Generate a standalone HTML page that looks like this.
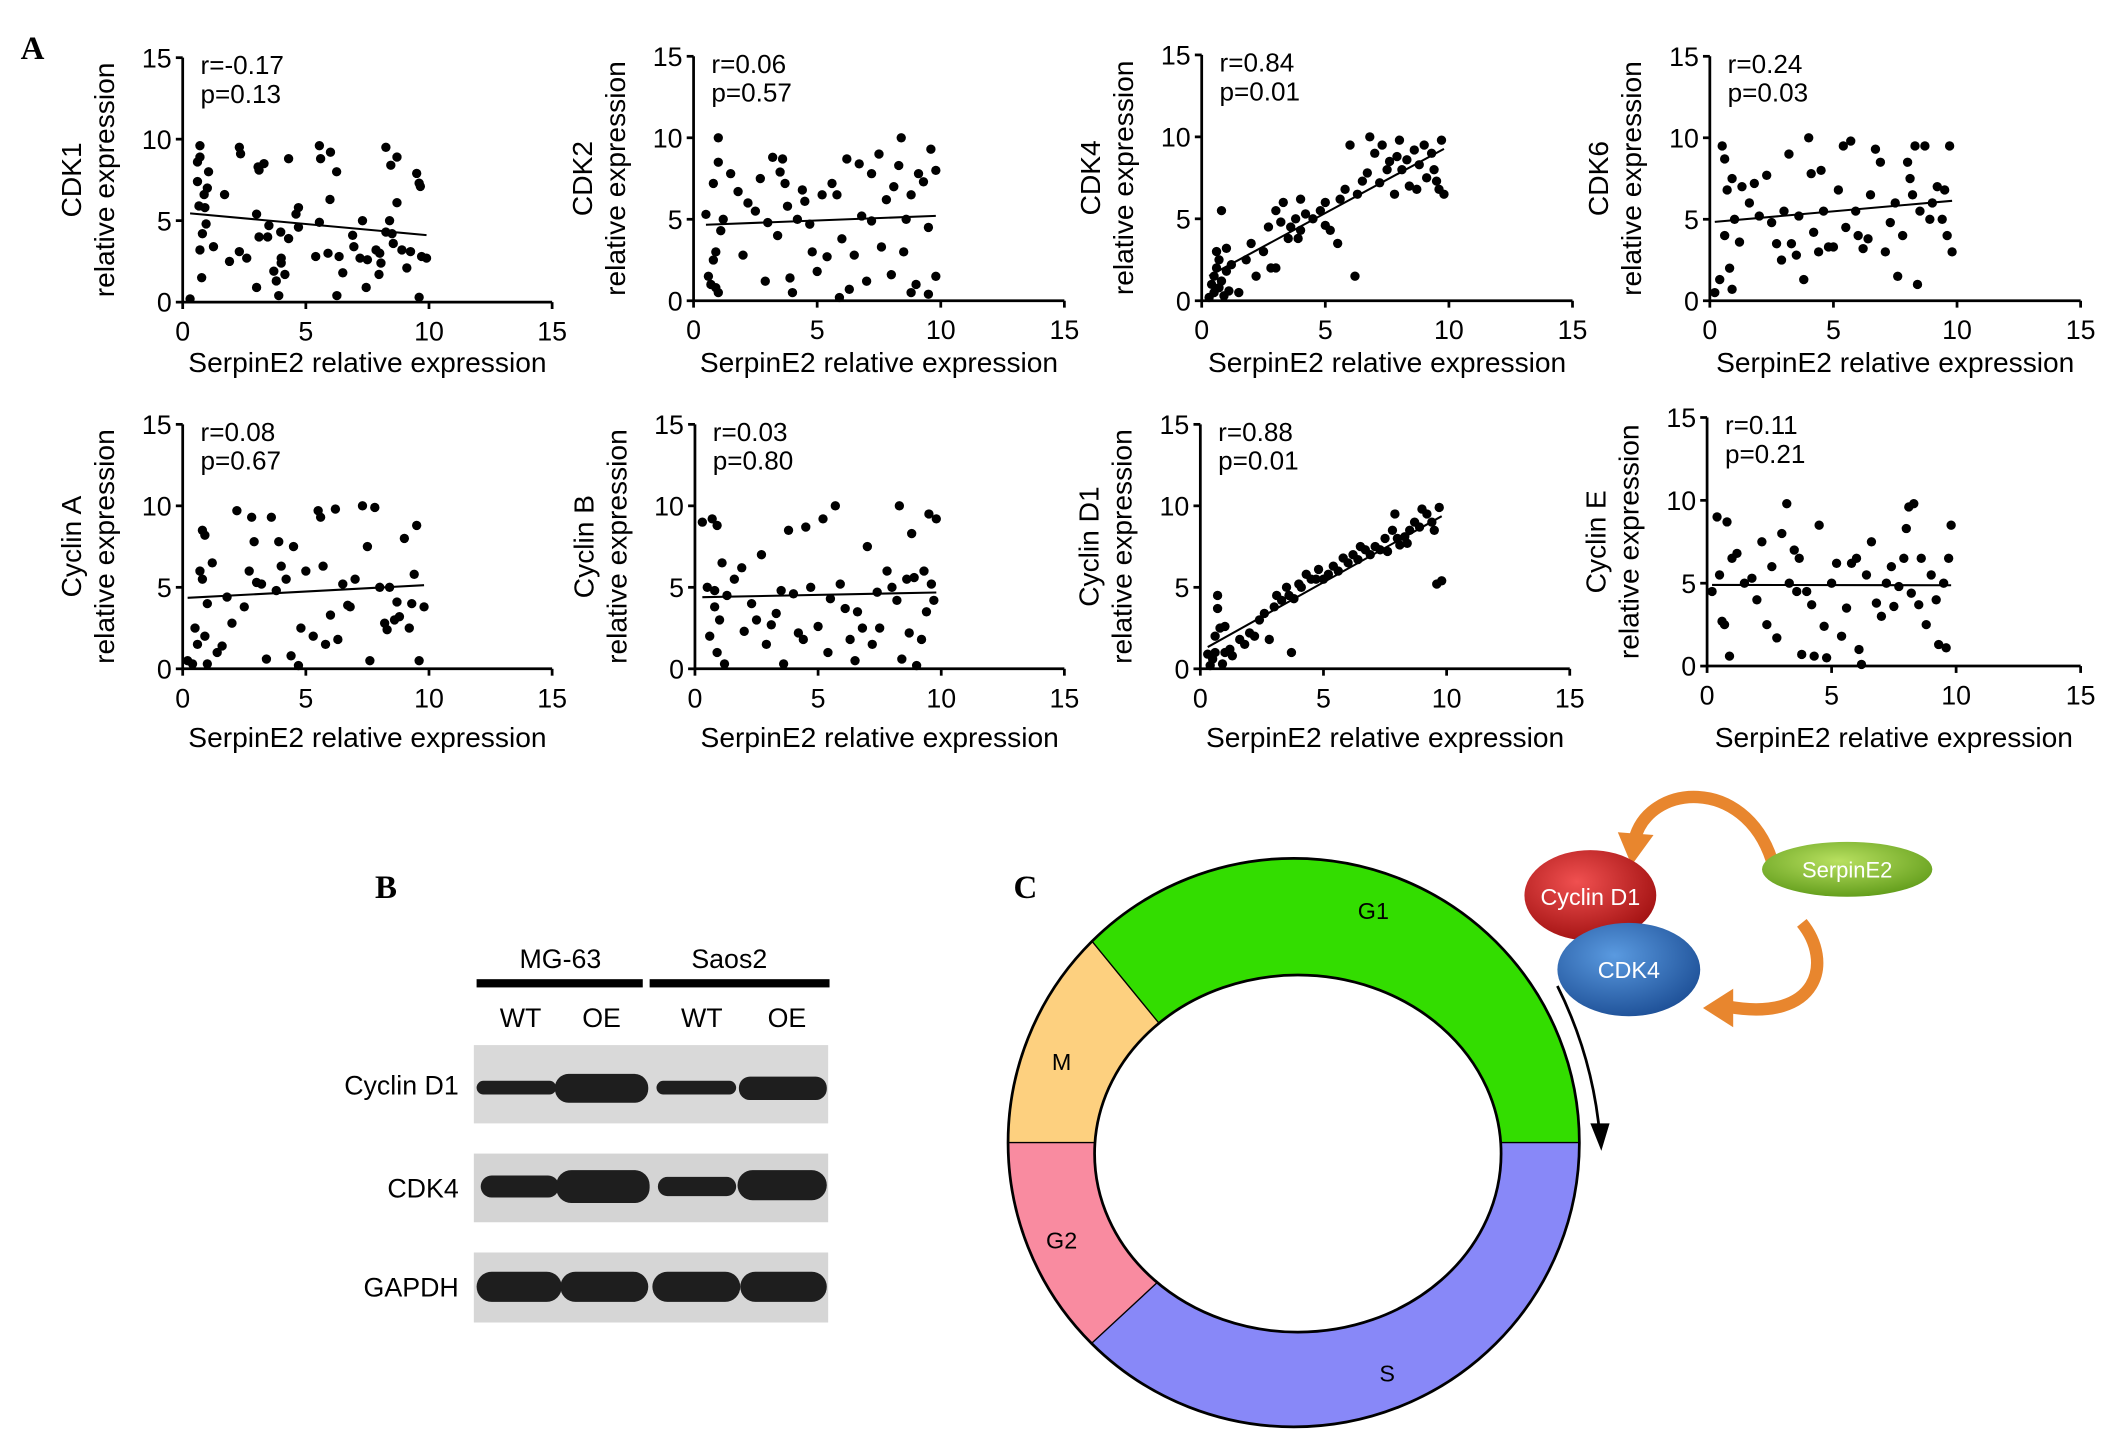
<!DOCTYPE html>
<html><head><meta charset="utf-8"><style>
html,body{margin:0;padding:0;background:#fff;width:2126px;height:1431px;overflow:hidden}
svg{display:block;font-family:"Liberation Sans",Arial,sans-serif}
</style></head><body>
<svg id="fig" width="2126" height="1431" viewBox="0 0 1548 1042" xmlns="http://www.w3.org/2000/svg">
<text x="15" y="43" font-family="Liberation Serif" font-weight="bold" font-size="24">A</text>
<g id="scatters"></g>

<!-- Panel B -->
<g>
<text x="273" y="654" font-family="Liberation Serif" font-weight="bold" font-size="24">B</text>
<text x="408" y="705" text-anchor="middle" font-size="19.5">MG-63</text>
<text x="531" y="705" text-anchor="middle" font-size="19.5">Saos2</text>
<rect x="347" y="713" width="121" height="6" fill="#000"/>
<rect x="473" y="713" width="131" height="6" fill="#000"/>
<text x="379" y="748" text-anchor="middle" font-size="19.5">WT</text>
<text x="438" y="748" text-anchor="middle" font-size="19.5">OE</text>
<text x="511" y="748" text-anchor="middle" font-size="19.5">WT</text>
<text x="573" y="748" text-anchor="middle" font-size="19.5">OE</text>
<text x="334" y="797" text-anchor="end" font-size="19.5">Cyclin D1</text>
<text x="334" y="872" text-anchor="end" font-size="19.5">CDK4</text>
<text x="334" y="944" text-anchor="end" font-size="19.5">GAPDH</text>
<rect x="345" y="761" width="258" height="57" fill="#d9d9d9"/>
<rect x="345" y="840" width="258" height="50" fill="#d4d4d4"/>
<rect x="345" y="912" width="258" height="51" fill="#d6d6d6"/>
<g fill="#1e1e1e">
<rect x="347" y="787" width="58" height="10" rx="5"/>
<rect x="404" y="782" width="68" height="21" rx="10"/>
<rect x="478" y="787" width="58" height="10" rx="5"/>
<rect x="538" y="784" width="64" height="17" rx="8"/>
<rect x="350" y="856" width="57" height="16" rx="8"/>
<rect x="405" y="852" width="68" height="24" rx="11"/>
<rect x="479" y="857" width="57" height="14" rx="7"/>
<rect x="537" y="852" width="65" height="22" rx="11"/>
<rect x="347" y="926" width="62" height="22" rx="11"/>
<rect x="408" y="926" width="64" height="22" rx="11"/>
<rect x="475" y="926" width="64" height="22" rx="11"/>
<rect x="539" y="926" width="63" height="22" rx="11"/>
</g>
</g>

<!-- Panel C -->
<g>
<text x="738" y="654" font-family="Liberation Serif" font-weight="bold" font-size="24">C</text>
<defs><clipPath id="ring"><ellipse cx="942" cy="832" rx="208" ry="207"/></clipPath>
<radialGradient id="gr" cx="40%" cy="35%" r="70%"><stop offset="0" stop-color="#f05050"/><stop offset="1" stop-color="#a01010"/></radialGradient>
<radialGradient id="gb" cx="40%" cy="35%" r="70%"><stop offset="0" stop-color="#5a9ae0"/><stop offset="1" stop-color="#1d4f96"/></radialGradient>
<radialGradient id="gg" cx="45%" cy="35%" r="70%"><stop offset="0" stop-color="#b8e060"/><stop offset="1" stop-color="#5e9a18"/></radialGradient></defs>
<g clip-path="url(#ring)">
<polygon points="700,569 700,540 1200,540 1200,832 945,832 870,777" fill="#33dd00"/>
<polygon points="700,569 870,777 945,832 700,832" fill="#fdd07f"/>
<polygon points="700,832 945,832 945,839 700,1066" fill="#f98ba0"/>
<polygon points="945,839 945,832 1200,832 1200,1100 700,1100 700,1066" fill="#8888f8"/>
<line x1="700" y1="569" x2="870" y2="777" stroke="#000" stroke-width="1"/>
<line x1="700" y1="832" x2="1200" y2="832" stroke="#000" stroke-width="1"/>
<line x1="700" y1="1066" x2="945" y2="839" stroke="#000" stroke-width="1"/>
</g>
<ellipse cx="942" cy="832" rx="208" ry="207" fill="none" stroke="#000" stroke-width="2"/>
<ellipse cx="945" cy="840" rx="148" ry="130" fill="#fff" stroke="#000" stroke-width="2"/>
<g font-size="17" text-anchor="middle">
<text x="1000" y="669">G1</text>
<text x="773" y="779">M</text>
<text x="773" y="909">G2</text>
<text x="1010" y="1006">S</text>
</g>
<path d="M1134,718 Q1160,770 1165,828" fill="none" stroke="#000" stroke-width="2"/>
<polygon points="1158,818 1172,818 1166,838" fill="#000"/>
<path d="M1290,626 C1270,565 1200,570 1190,612" fill="none" stroke="#e8862e" stroke-width="9"/>
<polygon points="1178,606 1204,608 1188,630" fill="#e8862e"/>
<path d="M1312,672 C1335,700 1325,745 1258,733" fill="none" stroke="#e8862e" stroke-width="9"/>
<polygon points="1262,720 1262,748 1240,734" fill="#e8862e"/>
<ellipse cx="1158" cy="652" rx="48" ry="33" fill="url(#gr)"/>
<text x="1158" y="659" text-anchor="middle" font-size="17" fill="#fff">Cyclin D1</text>
<ellipse cx="1186" cy="706" rx="52" ry="34" fill="url(#gb)"/>
<text x="1186" y="712" text-anchor="middle" font-size="17" fill="#fff">CDK4</text>
<ellipse cx="1345" cy="633" rx="62" ry="20" fill="url(#gg)"/>
<text x="1345" y="639" text-anchor="middle" font-size="16" fill="#fff">SerpinE2</text>
</g>
</svg>
<script>
const tickLabels = [0, 5, 10, 15];
const cdk1Points = [[0.3,0.2],[0.7,9.6],[0.6,8.6],[0.7,8.9],[0.6,7.4],[1.05,8.0],[1.0,7.0],[0.87,6.6],[0.66,5.9],[0.9,5.8],[0.95,4.8],[0.8,4.2],[0.7,3.2],[0.77,1.5],[1.25,3.4],[1.7,6.6],[1.9,2.5],[2.3,9.5],[2.35,9.1],[2.3,3.1],[2.6,2.7],[3.0,0.9],[3.0,5.4],[3.06,8.3],[3.1,8.1],[3.3,8.5],[3.1,4.0],[3.45,4.0],[3.5,4.7],[3.7,1.9],[3.8,1.3],[3.9,0.4],[3.98,4.3],[4.0,2.7],[4.0,2.4],[4.15,1.7],[4.3,3.9],[4.3,8.8],[4.6,5.4],[4.7,5.8],[4.7,4.6],[5.4,2.8],[5.55,9.6],[5.6,8.8],[5.55,4.9],[5.9,3.0],[6.0,9.2],[5.98,6.3],[6.25,8.0],[6.26,0.4],[6.35,2.8],[6.5,1.8],[6.9,4.1],[6.95,3.4],[7.2,2.7],[7.3,5.0],[7.45,0.9],[7.5,2.6],[7.85,3.2],[8.0,3.0],[8.05,2.4],[7.97,1.7],[8.25,9.5],[8.4,5.0],[8.45,8.4],[8.25,4.3],[8.5,4.2],[8.55,3.6],[8.7,8.9],[8.7,6.1],[8.9,3.2],[9.1,2.1],[9.25,3.1],[9.5,7.9],[9.6,7.3],[9.65,7.1],[9.6,0.3],[9.7,2.8],[9.9,2.7]];
const cdk2Points = [[0.5,5.3],[0.6,1.5],[0.7,1.0],[0.8,2.5],[0.9,0.8],[1.0,0.5],[0.8,7.2],[1.0,8.5],[1.0,10],[1.1,4.3],[0.9,3.0],[1.2,5.0],[1.5,7.8],[1.8,6.7],[2.0,2.8],[2.2,6.0],[2.5,5.5],[2.7,7.5],[2.9,1.2],[3.0,4.8],[3.2,8.8],[3.4,4.0],[3.5,7.9],[3.6,8.7],[3.7,7.2],[3.8,5.8],[3.9,1.4],[4.0,0.5],[4.2,5.0],[4.4,6.8],[4.5,6.1],[4.7,4.7],[4.8,3.0],[5.0,1.8],[5.2,6.5],[5.4,2.7],[5.6,7.2],[5.8,6.5],[5.9,0.2],[6.0,3.8],[6.2,8.7],[6.3,0.7],[6.5,2.8],[6.7,8.4],[6.8,5.2],[7.0,1.2],[7.2,4.9],[7.5,9.0],[7.6,3.3],[7.8,6.2],[8.0,1.6],[8.1,7.0],[8.3,8.3],[8.4,10],[8.5,3.0],[8.6,5.0],[8.8,6.5],[9.0,1.0],[9.1,7.8],[9.3,7.3],[9.5,0.4],[9.6,9.3],[9.8,1.5],[9.8,8.0],[9.5,4.5],[8.8,0.5],[7.2,7.8]];
const cdk4Points = [[0.3,0.2],[0.4,1.0],[0.5,0.5],[0.5,1.5],[0.6,2.0],[0.6,3.0],[0.7,0.8],[0.7,2.5],[0.8,1.2],[0.8,5.5],[0.9,0.3],[1.0,1.8],[1.0,3.2],[1.1,0.6],[1.2,2.2],[1.5,0.5],[1.8,2.5],[2.0,3.5],[2.2,1.5],[2.5,3.0],[2.7,4.5],[3.0,2.0],[3.0,5.5],[3.2,4.8],[3.3,6.0],[3.5,3.8],[3.6,4.5],[3.8,5.0],[3.9,3.8],[4.0,4.3],[4.2,5.3],[4.5,5.0],[4.8,5.5],[5.0,6.0],[5.2,4.3],[5.5,3.5],[5.6,6.2],[5.8,6.8],[6.0,9.5],[6.2,1.5],[6.3,6.5],[6.5,7.3],[6.7,7.8],[6.8,10],[7.0,9.0],[7.2,7.2],[7.3,9.5],[7.5,8.0],[7.6,8.5],[7.8,6.5],[7.9,8.8],[8.0,9.8],[8.1,8.0],[8.3,8.6],[8.4,7.0],[8.6,9.2],[8.7,6.8],[8.8,8.3],[9.0,9.5],[9.1,7.5],[9.3,9.0],[9.4,8.0],[9.5,7.3],[9.6,6.8],[9.7,9.8],[9.8,6.5],[5.0,4.6],[4.0,6.2],[2.8,2.0]];
const cdk6Points = [[0.2,0.5],[0.4,1.3],[0.5,9.5],[0.6,8.7],[0.6,4.0],[0.7,6.8],[0.8,2.0],[0.9,0.7],[0.9,7.5],[1.0,5.0],[1.2,3.6],[1.3,7.0],[1.6,6.0],[1.8,7.2],[2.0,5.2],[2.3,7.7],[2.5,4.8],[2.7,3.5],[2.9,2.5],[3.0,5.5],[3.2,9.0],[3.3,3.5],[3.5,2.8],[3.6,5.2],[3.8,1.3],[4.0,10],[4.1,7.8],[4.2,4.2],[4.4,3.0],[4.5,8.0],[4.6,5.5],[4.8,3.3],[5.0,3.3],[5.2,6.8],[5.4,9.5],[5.5,4.5],[5.7,9.8],[5.9,5.5],[6.0,4.0],[6.2,3.2],[6.4,3.8],[6.5,6.5],[6.7,9.3],[6.9,8.5],[7.1,3.0],[7.3,4.8],[7.5,6.0],[7.6,1.5],[7.8,4.0],[8.0,8.5],[8.1,7.5],[8.2,6.5],[8.3,9.5],[8.4,1.0],[8.5,5.5],[8.7,9.5],[8.9,5.0],[9.0,6.0],[9.2,7.0],[9.4,5.0],[9.6,4.0],[9.7,9.5],[9.8,3.0],[9.5,6.8]];
const cyclinAPoints = [[0.2,0.5],[0.4,0.3],[0.5,2.5],[0.6,1.5],[0.7,6.0],[0.8,5.5],[0.8,8.5],[0.9,8.2],[0.9,2.0],[1.0,0.3],[1.0,4.0],[1.2,6.5],[1.4,1.0],[1.6,1.4],[1.8,4.4],[2.0,2.8],[2.2,9.7],[2.5,3.8],[2.7,6.0],[2.8,9.3],[2.9,7.8],[3.0,5.3],[3.2,5.2],[3.4,0.6],[3.6,9.3],[3.8,4.8],[3.9,7.8],[4.0,6.3],[4.2,5.5],[4.4,0.8],[4.5,7.5],[4.7,0.2],[4.8,2.5],[5.0,6.0],[5.3,2.0],[5.5,9.7],[5.6,9.3],[5.7,6.3],[5.8,1.5],[6.0,3.3],[6.2,9.8],[6.3,1.8],[6.5,5.2],[6.7,3.9],[6.8,3.8],[7.0,5.5],[7.3,10],[7.5,7.5],[7.6,0.5],[7.8,9.9],[8.0,5.0],[8.2,2.8],[8.3,2.4],[8.4,5.0],[8.6,3.0],[8.8,3.2],[9.0,8.0],[9.2,2.5],[9.4,5.8],[9.5,8.8],[9.6,0.5],[9.8,3.8],[9.3,4.0],[8.7,4.1]];
const cyclinBPoints = [[0.3,9.0],[0.5,5.0],[0.6,2.0],[0.7,9.2],[0.8,3.8],[0.8,4.8],[0.9,1.0],[0.9,8.8],[1.0,3.0],[1.1,6.5],[1.2,0.3],[1.3,4.5],[1.6,5.5],[1.9,6.2],[2.0,2.3],[2.3,4.0],[2.5,3.0],[2.7,7.0],[2.9,1.5],[3.1,2.7],[3.3,3.4],[3.5,4.8],[3.6,0.3],[3.8,8.5],[4.0,4.6],[4.2,2.2],[4.4,1.8],[4.5,8.7],[4.7,5.0],[5.0,2.6],[5.2,9.2],[5.4,1.0],[5.5,4.3],[5.7,10],[5.9,5.2],[6.1,3.7],[6.3,1.8],[6.5,0.5],[6.6,3.5],[6.8,2.5],[7.0,7.5],[7.2,1.5],[7.4,4.7],[7.5,2.5],[7.8,6.0],[8.0,5.0],[8.2,4.2],[8.3,10],[8.4,0.6],[8.6,5.5],[8.7,2.2],[8.8,8.3],[9.0,0.2],[9.2,1.8],[9.3,6.0],[9.4,3.5],[9.5,9.5],[9.6,5.2],[9.7,4.2],[9.8,9.2],[8.9,5.6]];
const cyclinD1Points = [[0.3,0.9],[0.4,0.2],[0.5,0.6],[0.6,1.0],[0.6,2.0],[0.7,4.5],[0.7,3.7],[0.8,2.5],[0.9,0.3],[1.0,1.0],[1.0,2.6],[1.2,1.2],[1.3,0.8],[1.6,1.8],[1.8,1.5],[2.0,2.2],[2.2,2.0],[2.4,3.0],[2.6,3.4],[2.8,1.8],[3.0,3.8],[3.1,4.5],[3.3,4.2],[3.5,5.0],[3.6,4.5],[3.7,1.0],[3.8,4.3],[4.0,5.2],[4.1,5.0],[4.3,5.8],[4.5,5.5],[4.7,5.5],[4.8,6.1],[5.0,5.5],[5.2,5.8],[5.4,6.3],[5.6,6.0],[5.8,6.8],[6.0,6.5],[6.2,7.0],[6.4,6.7],[6.5,7.5],[6.7,7.3],[6.9,7.0],[7.1,7.5],[7.3,7.3],[7.5,8.0],[7.6,7.2],[7.8,8.5],[7.9,9.5],[8.0,8.0],[8.1,7.6],[8.3,8.1],[8.5,8.5],[8.7,9.0],[8.9,8.7],[9.0,9.8],[9.2,9.5],[9.4,9.0],[9.5,8.5],[9.6,5.2],[9.8,5.4],[9.7,9.9],[8.4,7.7]];
const cyclinEPoints = [[0.2,4.5],[0.4,9.0],[0.5,5.5],[0.6,2.7],[0.7,2.5],[0.8,8.7],[0.9,0.6],[1.0,6.5],[1.2,6.8],[1.5,5.0],[1.8,5.3],[2.0,4.0],[2.2,7.5],[2.4,2.5],[2.6,6.0],[2.8,1.7],[3.0,8.0],[3.2,9.8],[3.3,5.0],[3.5,7.0],[3.6,4.5],[3.7,6.5],[3.8,0.7],[4.0,4.5],[4.2,3.7],[4.3,0.6],[4.5,8.5],[4.7,2.4],[4.8,0.5],[5.0,5.0],[5.2,6.2],[5.4,1.8],[5.6,3.5],[5.8,6.2],[6.0,6.5],[6.1,1.0],[6.2,0.1],[6.4,5.5],[6.6,7.5],[6.8,3.8],[7.0,3.0],[7.2,5.0],[7.4,6.0],[7.5,3.6],[7.7,4.8],[7.9,6.5],[8.0,8.3],[8.1,9.6],[8.3,9.8],[8.5,3.7],[8.6,6.5],[8.8,2.5],[9.0,5.5],[9.2,4.0],[9.3,1.3],[9.5,5.0],[9.6,1.1],[9.7,6.5],[9.8,8.5],[8.2,4.4]];
const geneNames = ["CDK1","CDK2","CDK4","CDK6","Cyclin A","Cyclin B","Cyclin D1","Cyclin E"];
const rValues = ["-0.17","0.06","0.84","0.24","0.08","0.03","0.88","0.11"];
const pValues = ["0.13","0.57","0.01","0.03","0.67","0.80","0.01","0.21"];
const allPoints = [cdk1Points,cdk2Points,cdk4Points,cdk6Points,cyclinAPoints,cyclinBPoints,cyclinD1Points,cyclinEPoints];

const layout = [
 {x0:133,x15:402,y0:220,y15:42,tY:271},{x0:505,x15:775,y0:219,y15:41,tY:271},
 {x0:875,x15:1145,y0:219,y15:40,tY:271},{x0:1245,x15:1515,y0:219,y15:41,tY:271},
 {x0:133,x15:402,y0:487,y15:309,tY:544},{x0:506,x15:775,y0:487,y15:309,tY:544},
 {x0:874,x15:1143,y0:487,y15:309,tY:544},{x0:1243,x15:1515,y0:485,y15:304,tY:544}];
const NS="http://www.w3.org/2000/svg";
const root=document.getElementById('scatters');
function mk(tag,attrs,parent){const e=document.createElementNS(NS,tag);for(const k in attrs)e.setAttribute(k,attrs[k]);parent.appendChild(e);return e;}
layout.forEach((L,i)=>{
  const sx=v=>L.x0+(L.x15-L.x0)*v/15, sy=v=>L.y0-(L.y0-L.y15)*v/15;
  const g=mk('g',{},root);
  
  
  const ax=mk('path',{d:`M${L.x0},${L.y15}V${L.y0}H${L.x15}`,fill:'none',stroke:'#000','stroke-width':2},g);
  
  
  tickLabels.forEach(t=>{
    mk('line',{x1:L.x0-5,x2:L.x0,y1:sy(t),y2:sy(t),stroke:'#000','stroke-width':2},g);
    mk('line',{x1:sx(t),x2:sx(t),y1:L.y0,y2:L.y0+5,stroke:'#000','stroke-width':2},g);
    const yl=mk('text',{x:L.x0-8,y:sy(t)+7,'text-anchor':'end','font-size':19.5},g);yl.textContent=t;
    
    
    const xl=mk('text',{x:sx(t),y:L.y0+28,'text-anchor':'middle','font-size':19.5},g);xl.textContent=t;
    
    
  });
  const xt=mk('text',{x:(L.x0+L.x15)/2,y:L.tY,'text-anchor':'middle','font-size':20.5},g);xt.textContent='SerpinE2 relative expression';
  
  
  const cy=(L.y0+L.y15)/2;
  const yt=mk('text',{transform:`translate(${L.x0-74},${cy}) rotate(-90)`,'text-anchor':'middle','font-size':20.5},g);yt.textContent=geneNames[i];
  
  
  const yt2=mk('text',{transform:`translate(${L.x0-50},${cy}) rotate(-90)`,'text-anchor':'middle','font-size':20.5},g);yt2.textContent='relative expression';
  
  
  const rt=mk('text',{x:L.x0+13,y:L.y15+12,'font-size':19},g);rt.textContent='r='+rValues[i];
  
  
  const pt=mk('text',{x:L.x0+13,y:L.y15+33,'font-size':19},g);pt.textContent='p='+pValues[i];
  
  
  const pts=allPoints[i];
  pts.forEach(p=>{
    const c=mk('circle',{cx:sx(p[0]),cy:sy(p[1]),r:3.4,fill:'#000'},g);
    
    
  });
  const n=pts.length;let mx=0,my=0;pts.forEach(p=>{mx+=p[0];my+=p[1];});mx/=n;my/=n;
  let sxy=0,sxx=0;pts.forEach(p=>{sxy+=(p[0]-mx)*(p[1]-my);sxx+=(p[0]-mx)**2;});
  const b=sxy/sxx,a=my-b*mx;
  const xmin=Math.min(...pts.map(p=>p[0])),xmax=Math.max(...pts.map(p=>p[0]));
  const rl=mk('line',{x1:sx(xmin),y1:sy(a+b*xmin),x2:sx(xmax),y2:sy(a+b*xmax),stroke:'#000','stroke-width':1.5},g);
  
  
});
</script>
</body></html>
